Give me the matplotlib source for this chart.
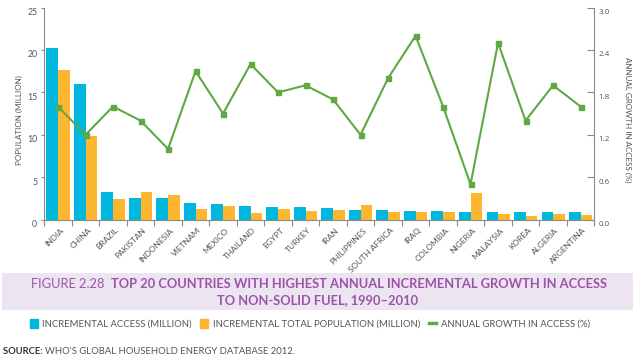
import matplotlib
matplotlib.use("Agg")
import matplotlib.pyplot as plt
import matplotlib.transforms as mtransforms
import numpy as np
from matplotlib.patches import Patch, Rectangle
from matplotlib.lines import Line2D

plt.rcParams['font.family'] = ['Lato', 'DejaVu Sans']

countries = ["INDIA", "CHINA", "BRAZIL", "PAKISTAN", "INDONESIA", "VIETNAM", "MEXICO",
             "THAILAND", "EGYPT", "TURKEY", "IRAN", "PHILIPPINES", "SOUTH AFRICA", "IRAQ",
             "COLOMBIA", "NIGERIA", "MALAYSIA", "KOREA", "ALGERIA", "ARGENTINA"]
access = [20.2, 16.0, 3.3, 2.55, 2.55, 1.9, 1.8, 1.6, 1.5, 1.5,
          1.38, 1.18, 1.18, 0.98, 0.98, 0.86, 0.86, 0.86, 0.86, 0.86]
population = [17.6, 9.9, 2.4, 3.3, 2.95, 1.2, 1.6, 0.8, 1.3, 1.05,
              1.18, 1.73, 0.86, 0.86, 0.86, 3.14, 0.67, 0.47, 0.67, 0.55]
growth = [1.6, 1.2, 1.6, 1.4, 1.0, 2.1, 1.5, 2.2, 1.8, 1.9,
          1.7, 1.2, 2.0, 2.6, 1.6, 0.5, 2.5, 1.4, 1.9, 1.6]

blue = "#00B8DE"
orange = "#FDB62F"
green = "#5FA844"
grey = "#555555"
axis_grey = "#8A8A8A"
purple = "#9A55A6"

fig = plt.figure(figsize=(6.4, 3.6), dpi=100)
ax = fig.add_axes([0.0692, 0.390, 0.8594, 0.589])
ax2 = ax.twinx()

x = np.arange(len(countries))
w = 0.42
ax.bar(x - w / 2, access, width=w, color=blue, zorder=2)
ax.bar(x + w / 2, population, width=w, color=orange, zorder=2)
ax2.plot(x, growth, color=green, lw=1.5, marker="s", markersize=3.6, zorder=3)

ax.set_xlim(-0.5, len(countries) - 0.5)
ax.set_ylim(0, 25)
ax2.set_ylim(0, 3.0)
ax.set_yticks([0, 5, 10, 15, 20, 25])
ax2.set_yticks([0.0, 0.6, 1.2, 1.8, 2.4, 3.0])
ax2.set_yticklabels(["0.0", "0.6", "1.2", "1.8", "2.4", "3.0"])

ax.set_xticks(x)
ax.set_xticklabels(countries, rotation=45, ha="right", va="top", rotation_mode="anchor",
                   fontsize=6.0, color=grey)
ax.set_xticks(np.arange(-0.5, len(countries), 1), minor=True)
ax.tick_params(axis="x", which="major", length=0, pad=5)
ax.tick_params(axis="x", which="minor", length=4, color=axis_grey, width=0.8)
ax.tick_params(axis="y", length=2.5, color=axis_grey, width=0.8, labelsize=6.3, labelcolor=grey, pad=2.5)
ax2.tick_params(axis="y", direction="in", length=5, color=axis_grey, width=0.8,
                labelsize=6.3, labelcolor=grey, pad=3)
for lab in ax2.get_yticklabels():
    lab.set_family(['Open Sans', 'DejaVu Sans'])
    lab.set_fontsize(5.8)

# shift the tick labels a little right/down like the original
shift = mtransforms.ScaledTranslation(0, -4 / 100, fig.dpi_scale_trans)
for lab in ax.get_yticklabels() + ax2.get_yticklabels():
    lab.set_transform(lab.get_transform() + shift)
xshift = mtransforms.ScaledTranslation(2 / 100, 0, fig.dpi_scale_trans)
for lab in ax.get_xticklabels():
    lab.set_transform(lab.get_transform() + xshift)

for a in (ax, ax2):
    a.spines["top"].set_visible(False)
    for s in ("left", "right", "bottom"):
        a.spines[s].set_color(axis_grey)
        a.spines[s].set_linewidth(0.8)
ax.spines["right"].set_visible(False)
ax2.spines["left"].set_visible(False)
ax2.spines["bottom"].set_visible(False)

ax.set_ylabel("POPULATION (MILLION)", fontsize=5.8, color=grey, va="center")
ax.yaxis.set_label_coords(-0.045, 0.47)
ax2.set_ylabel("ANNUAL GROWTH IN ACCESS (%)", fontsize=5.8, color=grey, rotation=-90,
               va="center")
ax2.yaxis.set_label_coords(1.061, 0.47)

# title band
fig.patches.append(Rectangle((2 / 640, 1 - 310 / 360), 631 / 640, 37 / 360,
                             transform=fig.transFigure, facecolor="#EDE4F1", edgecolor="none"))
t1 = fig.text(31 / 640, 1 - 284 / 360, "FIGURE 2.28  ", fontsize=9, color=purple,
              ha="left", va="center")
t2 = fig.text(0, 1 - 284 / 360, "TOP 20 COUNTRIES WITH HIGHEST ANNUAL INCREMENTAL GROWTH IN ACCESS",
              fontsize=9, color=purple, fontweight="bold", ha="left", va="center")
t3 = fig.text(318 / 640, 1 - 300 / 360, "TO NON-SOLID FUEL, 1990\u20132010", fontsize=9,
              color=purple, fontweight="bold", ha="center", va="center")
# fit the first title line to run from x=31 to x=606 like the original
for _ in range(3):
    fig.canvas.draw()
    bb1 = t1.get_window_extent()
    t2.set_x(bb1.x1 / 640)
    fig.canvas.draw()
    total = t2.get_window_extent().x1 - 31
    k = 575 / total
    t1.set_fontsize(t1.get_fontsize() * k)
    t2.set_fontsize(t2.get_fontsize() * k)
fig.canvas.draw()
t2.set_x(t1.get_window_extent().x1 / 640)
t3.set_fontsize(t2.get_fontsize())

handles = [Patch(color=blue), Patch(color=orange),
           Line2D([], [], color=green, lw=2.5)]
labels = ["INCREMENTAL ACCESS (MILLION)", "INCREMENTAL TOTAL POPULATION (MILLION)",
          "ANNUAL GROWTH IN ACCESS (%)"]
fig.legend(handles, labels, loc="center", bbox_to_anchor=(310 / 640, 1 - 324 / 360), ncol=3,
           frameon=False, fontsize=6.8, labelcolor=grey, handlelength=0.8, handleheight=1.0,
           handletextpad=0.5, columnspacing=0.9)

s = fig.text(3 / 640, 1 - 351 / 360, "SOURCE: ", fontsize=6.8, color="#333333",
             fontweight="bold", ha="left", va="center")
fig.canvas.draw()
bb = s.get_window_extent()
fig.text(bb.x1 / 640, 1 - 351 / 360, "WHO'S GLOBAL HOUSEHOLD ENERGY DATABASE 2012.",
         fontsize=6.8, color=grey, ha="left", va="center")

fig.savefig("out.png", dpi=100)
